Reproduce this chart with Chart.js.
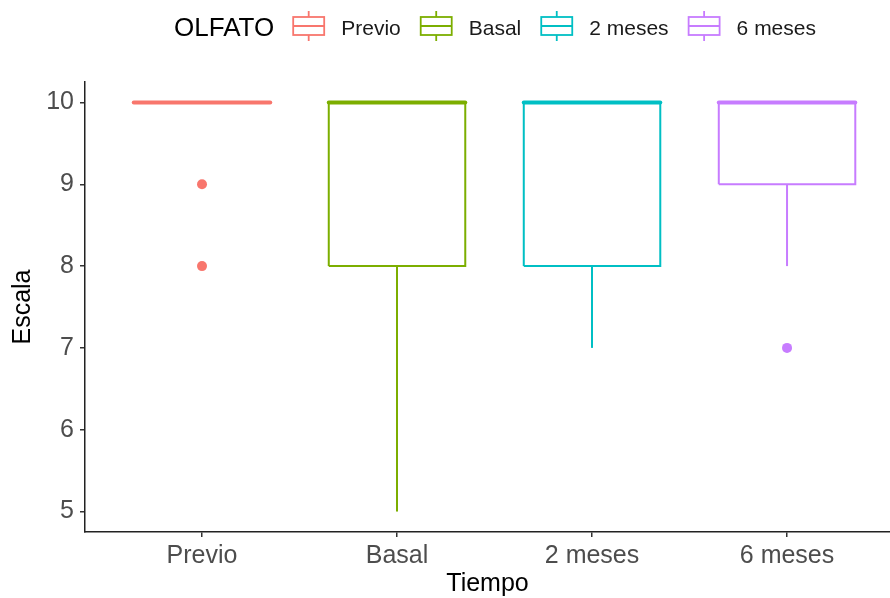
<!DOCTYPE html>
<html>
<head>
<meta charset="utf-8">
<script src="https://cdn.jsdelivr.net/npm/chart.js@4"></script>
<style>
  html, body { margin: 0; padding: 0; background: #fff; }
  #wrap { width: 890px; height: 598px; }
</style>
</head>
<body>
<div id="wrap"><canvas id="boxChart" width="890" height="598"></canvas></div>
<script>
// datos
var categories = ['Previo', 'Basal', '2 meses', '6 meses'];
var colors = ['#F8766D', '#7CAE00', '#00BFC4', '#C77CFF'];
var whiskerLow = [10, 5, 7, 8];
var q1 = [10, 8, 8, 9];
var medians = [10, 10, 10, 10];
var q3 = [10, 10, 10, 10];
var whiskerHigh = [10, 10, 10, 10];
var outlierGroup = [0, 0, 3];
var outlierValue = [9, 8, 7];
var yTicks = [5, 6, 7, 8, 9, 10];
var legendTitle = 'OLFATO';

var FONT = '"Liberation Sans", Arial, sans-serif';
var halfW = 0.35;
var datasets = [];
var step;
for (step = 0; step < categories.length; step++) {
  var x = step + 1;
  var c = colors[step];
  // caja
  datasets.push({
    label: categories[step] + ' caja',
    data: [
      {x: x - halfW, y: q1[step]}, {x: x + halfW, y: q1[step]},
      {x: x + halfW, y: q3[step]}, {x: x - halfW, y: q3[step]},
      {x: x - halfW, y: q1[step]}
    ],
    showLine: true, borderColor: c, borderWidth: 2, pointRadius: 0,
    backgroundColor: 'rgba(0,0,0,0)', fill: false
  });
  // bigotes
  datasets.push({
    label: categories[step] + ' bigote inf',
    data: [{x: x, y: whiskerLow[step]}, {x: x, y: q1[step]}],
    showLine: true, borderColor: c, borderWidth: 2, pointRadius: 0
  });
  datasets.push({
    label: categories[step] + ' bigote sup',
    data: [{x: x, y: q3[step]}, {x: x, y: whiskerHigh[step]}],
    showLine: true, borderColor: c, borderWidth: 2, pointRadius: 0
  });
  // mediana
  datasets.push({
    label: categories[step] + ' mediana',
    data: [{x: x - halfW, y: medians[step]}, {x: x + halfW, y: medians[step]}],
    showLine: true, borderColor: c, borderWidth: 4, pointRadius: 0,
    borderCapStyle: 'round'
  });
}
// atipicos
for (step = 0; step < outlierValue.length; step++) {
  var g = outlierGroup[step];
  datasets.push({
    label: categories[g] + ' atipico',
    data: [{x: g + 1, y: outlierValue[step]}],
    showLine: false, pointRadius: 5, pointHoverRadius: 5,
    pointBackgroundColor: colors[g], pointBorderWidth: 0
  });
}

// leyenda tipo ggplot dibujada a mano
var legendPlugin = {
  id: 'ggLegend',
  afterDraw: function(chart) {
    var ctx = chart.ctx;
    var yc = 28;
    var iconY = 26;
    ctx.save();
    ctx.textBaseline = 'middle';
    ctx.font = '26px ' + FONT;
    var titleW = ctx.measureText(legendTitle).width;
    ctx.font = '21px ' + FONT;
    var total = titleW + 19;
    var i;
    for (i = 0; i < categories.length; i++) {
      total += 31 + 17 + ctx.measureText(categories[i]).width + (i < categories.length - 1 ? 20 : 0);
    }
    var xp = 495 - total / 2;
    ctx.fillStyle = '#000';
    ctx.font = '26px ' + FONT;
    ctx.textAlign = 'left';
    ctx.fillText(legendTitle, xp, yc + 1);
    xp += titleW + 19;
    ctx.font = '21px ' + FONT;
    for (i = 0; i < categories.length; i++) {
      var cx = xp + 15.5;
      ctx.strokeStyle = colors[i];
      ctx.lineWidth = 1.8;
      ctx.strokeRect(xp, iconY - 9, 31, 18);
      ctx.beginPath();
      ctx.moveTo(xp, iconY); ctx.lineTo(xp + 31, iconY);
      ctx.moveTo(cx, iconY - 15); ctx.lineTo(cx, iconY - 9);
      ctx.moveTo(cx, iconY + 9); ctx.lineTo(cx, iconY + 15);
      ctx.stroke();
      xp += 31 + 17;
      ctx.fillStyle = '#1a1a1a';
      ctx.fillText(categories[i], xp, yc + 1);
      xp += ctx.measureText(categories[i]).width + 20;
    }
    ctx.restore();
  }
};

var ctx = document.getElementById('boxChart').getContext('2d');
var boxChart = new Chart(ctx, {
  type: 'scatter',
  data: { datasets: datasets },
  options: {
    responsive: false,
    animation: false,
    layout: { autoPadding: false, padding: { top: 82, left: 0, right: 0, bottom: 0 } },
    plugins: {
      legend: { display: false },
      tooltip: { enabled: false }
    },
    scales: {
      x: {
        type: 'linear',
        min: 0.4,
        max: 4.528,
        afterBuildTicks: function(scale) {
          scale.ticks = categories.map(function(c, i) { return {value: i + 1}; });
        },
        afterFit: function(scale) {
          scale.height = 66;
          scale.paddingLeft = 0;
          scale.paddingRight = 0;
        },
        ticks: {
          callback: function(v) { return categories[v - 1]; },
          color: '#4d4d4d',
          font: { family: FONT, size: 25 },
          padding: 4,
          maxRotation: 0
        },
        grid: { drawOnChartArea: false, drawTicks: true, tickLength: 5, color: '#333', lineWidth: 1.5 },
        border: { display: true, color: '#222', width: 1.5 },
        title: {
          display: true, text: 'Tiempo', color: '#000',
          font: { family: FONT, size: 25, lineHeight: 1.1 },
          padding: { top: 0, bottom: 0 }
        }
      },
      y: {
        type: 'linear',
        min: 4.75,
        max: 10.25,
        afterBuildTicks: function(scale) {
          scale.ticks = yTicks.map(function(v) { return {value: v}; });
        },
        afterFit: function(scale) { scale.width = 85; },
        ticks: {
          color: '#4d4d4d',
          font: { family: FONT, size: 25 },
          padding: 6
        },
        grid: { drawOnChartArea: false, drawTicks: true, tickLength: 5, color: '#333', lineWidth: 1.5 },
        border: { display: true, color: '#222', width: 1.5 },
        title: {
          display: true, text: 'Escala', color: '#000',
          font: { family: FONT, size: 25 },
          padding: { top: 8, bottom: 0 }
        }
      }
    }
  },
  plugins: [legendPlugin]
});
</script>
</body>
</html>
